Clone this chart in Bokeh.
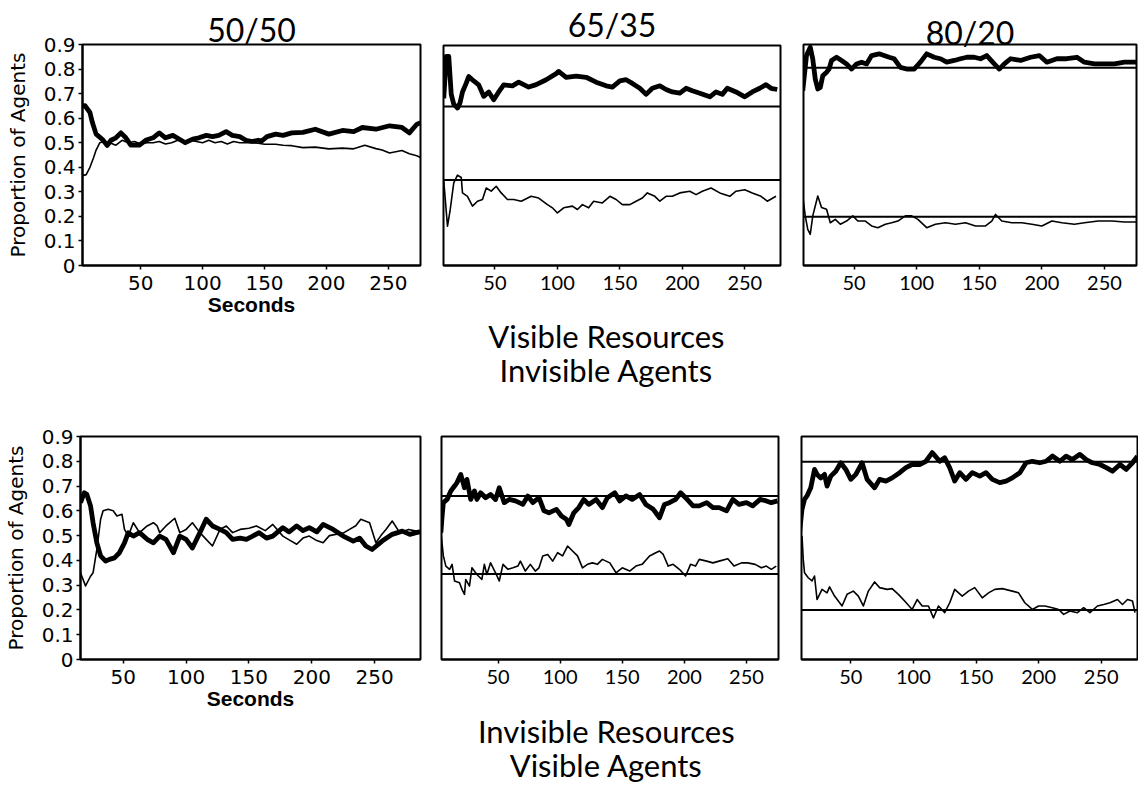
from bokeh.plotting import figure
from bokeh.models import Range1d, FixedTicker, Span, Title, Label
from bokeh.layouts import column, row
from bokeh.embed import file_html
from bokeh.resources import INLINE

# ---------------- data ----------------
titles = ["50/50", "65/35", "80/20"]
row_labels_top = ["Visible Resources", "Invisible Agents"]
row_labels_bottom = ["Invisible Resources", "Visible Agents"]
y_ticks = [0, 0.1, 0.2, 0.3, 0.4, 0.5, 0.6, 0.7, 0.8, 0.9]
y_tick_labels = ["0", "0.1", "0.2", "0.3", "0.4", "0.5", "0.6", "0.7", "0.8", "0.9"]
x_ticks = [50, 100, 150, 200, 250]

# Top row, 50/50
p1_thick_t = [3, 5, 9, 11, 14, 19, 23, 26, 30, 34, 38, 42, 49, 54, 60, 65, 70, 76, 81, 86, 92, 97, 103, 108,
              113, 119, 124, 130, 135, 140, 145, 148, 152, 159, 165, 172, 181, 191, 202, 213, 222, 229, 240,
              251, 261, 267, 273, 276]
p1_thick = [0.65, 0.651, 0.623, 0.582, 0.535, 0.514, 0.489, 0.51, 0.52, 0.54, 0.52, 0.49, 0.49, 0.51, 0.52,
            0.54, 0.52, 0.53, 0.515, 0.50, 0.515, 0.52, 0.53, 0.525, 0.53, 0.545, 0.53, 0.525, 0.51, 0.505,
            0.51, 0.508, 0.525, 0.535, 0.53, 0.54, 0.542, 0.555, 0.535, 0.55, 0.545, 0.562, 0.555, 0.569,
            0.562, 0.54, 0.575, 0.582]
p1_thin_t = [3, 6, 9, 12, 14, 17, 20, 25, 30, 35, 40, 45, 50, 55, 60, 65, 70, 75, 80, 85, 90, 95, 100, 105,
             110, 115, 120, 125, 130, 135, 140, 145, 150, 159, 165, 172, 181, 191, 202, 213, 222, 231, 240,
             245, 251, 261, 267, 273, 276]
p1_thin = [0.366, 0.37, 0.40, 0.44, 0.47, 0.50, 0.505, 0.50, 0.49, 0.51, 0.50, 0.505, 0.495, 0.50, 0.50,
           0.505, 0.495, 0.50, 0.51, 0.505, 0.51, 0.505, 0.50, 0.51, 0.50, 0.505, 0.495, 0.505, 0.50, 0.50,
           0.50, 0.498, 0.494, 0.494, 0.49, 0.488, 0.48, 0.482, 0.475, 0.478, 0.475, 0.49, 0.476, 0.47,
           0.458, 0.468, 0.455, 0.447, 0.44]

# Top row, 65/35
p2_thick_t = [9, 11, 13, 15, 17, 20, 22, 24, 27, 29, 33, 37, 41, 45, 49, 53, 57, 64, 69, 77, 83, 91, 99, 101,
              107, 115, 123, 131, 139, 144, 150, 155, 160, 166, 171, 176, 182, 187, 192, 198, 203, 208, 214,
              222, 227, 232, 236, 243, 250, 256, 262, 267, 271, 276]
p2_thick = [0.684, 0.855, 0.855, 0.70, 0.66, 0.644, 0.665, 0.71, 0.746, 0.773, 0.755, 0.739, 0.692, 0.71,
            0.678, 0.71, 0.739, 0.735, 0.75, 0.73, 0.74, 0.76, 0.785, 0.794, 0.77, 0.775, 0.77, 0.75, 0.735,
            0.73, 0.755, 0.76, 0.745, 0.725, 0.70, 0.725, 0.735, 0.72, 0.71, 0.705, 0.725, 0.715, 0.705,
            0.69, 0.71, 0.70, 0.725, 0.71, 0.69, 0.71, 0.725, 0.74, 0.725, 0.72]
p2_thin_t = [9, 12, 14, 17, 20, 23, 24, 28, 32, 36, 40, 43, 47, 51, 55, 60, 65, 71, 79, 85, 92, 96, 100, 105,
             112, 116, 120, 125, 129, 136, 142, 147, 152, 158, 163, 168, 172, 178, 182, 187, 192, 198, 206,
             211, 216, 223, 230, 238, 243, 250, 256, 263, 268, 275]
p2_thin = [0.345, 0.161, 0.222, 0.338, 0.37, 0.36, 0.297, 0.283, 0.243, 0.263, 0.27, 0.317, 0.304, 0.324,
           0.297, 0.27, 0.27, 0.263, 0.283, 0.276, 0.249, 0.236, 0.215, 0.236, 0.243, 0.229, 0.249, 0.236,
           0.263, 0.256, 0.283, 0.27, 0.249, 0.249, 0.263, 0.276, 0.297, 0.283, 0.263, 0.283, 0.283, 0.297,
           0.304, 0.29, 0.304, 0.317, 0.297, 0.283, 0.304, 0.31, 0.297, 0.283, 0.263, 0.283]
p2_refs = [0.65, 0.35]

# Top row, 80/20
p3_thick_t = [9, 12, 15, 17, 19, 21, 23, 25, 28, 30, 32, 36, 40, 44, 48, 52, 56, 60, 64, 70, 74, 78, 82, 87,
              92, 98, 103, 108, 114, 119, 124, 130, 135, 140, 146, 151, 156, 162, 166, 170, 175, 183, 191,
              198, 204, 212, 220, 228, 234, 242, 250, 258, 266, 276]
p3_thick = [0.712, 0.855, 0.889, 0.841, 0.759, 0.719, 0.725, 0.773, 0.787, 0.80, 0.835, 0.848, 0.835, 0.821,
            0.80, 0.821, 0.828, 0.821, 0.855, 0.862, 0.855, 0.848, 0.842, 0.807, 0.80, 0.80, 0.828, 0.862,
            0.848, 0.842, 0.828, 0.835, 0.842, 0.848, 0.848, 0.842, 0.855, 0.821, 0.80, 0.821, 0.842, 0.835,
            0.848, 0.855, 0.828, 0.842, 0.842, 0.848, 0.828, 0.821, 0.821, 0.821, 0.828, 0.828]
p3_thin_t = [9, 11, 13, 15, 17, 21, 24, 28, 31, 35, 39, 44, 49, 53, 59, 64, 69, 75, 80, 85, 91, 96, 101, 108,
             115, 123, 131, 139, 147, 155, 160, 163, 168, 176, 184, 192, 200, 208, 216, 226, 234, 245, 256,
             266, 276]
p3_thin = [0.283, 0.202, 0.147, 0.127, 0.202, 0.283, 0.236, 0.229, 0.174, 0.188, 0.168, 0.181, 0.202, 0.181,
           0.181, 0.161, 0.154, 0.168, 0.174, 0.181, 0.202, 0.202, 0.188, 0.154, 0.168, 0.174, 0.168, 0.174,
           0.161, 0.161, 0.181, 0.208, 0.181, 0.174, 0.174, 0.168, 0.161, 0.181, 0.174, 0.168, 0.174, 0.181,
           0.181, 0.177, 0.177]
p3_refs = [0.805, 0.199]

# Bottom row, 50/50
p4_thick_t = [16, 19, 21, 24, 26, 29, 32, 36, 39, 43, 47, 51, 54, 58, 63, 69, 74, 79, 84, 90, 95, 100, 105,
              111, 116, 121, 127, 132, 137, 143, 148, 153, 158, 164, 169, 177, 182, 188, 193, 198, 204, 209,
              217, 225, 233, 238, 243, 248, 256, 264, 272, 278, 283, 286]
p4_thick = [0.633, 0.673, 0.667, 0.62, 0.552, 0.471, 0.418, 0.397, 0.404, 0.41, 0.431, 0.471, 0.512, 0.498,
            0.512, 0.485, 0.471, 0.498, 0.485, 0.431, 0.498, 0.485, 0.45, 0.512, 0.566, 0.539, 0.525, 0.512,
            0.485, 0.49, 0.485, 0.498, 0.512, 0.49, 0.498, 0.532, 0.515, 0.539, 0.52, 0.532, 0.515, 0.545,
            0.525, 0.498, 0.478, 0.49, 0.458, 0.444, 0.478, 0.505, 0.518, 0.505, 0.512, 0.515]
p4_thin_t = [16, 20, 24, 26, 29, 32, 34, 38, 42, 45, 49, 51, 54, 58, 63, 69, 74, 77, 79, 84, 91, 95, 100, 105,
             111, 116, 121, 127, 132, 137, 143, 150, 156, 163, 169, 177, 183, 188, 193, 198, 204, 209, 214,
             219, 225, 230, 235, 239, 246, 251, 255, 259, 264, 270, 277, 283, 286]
p4_thin = [0.35, 0.297, 0.336, 0.35, 0.444, 0.566, 0.60, 0.606, 0.60, 0.579, 0.586, 0.525, 0.498, 0.552,
           0.512, 0.539, 0.552, 0.539, 0.512, 0.539, 0.57, 0.512, 0.525, 0.552, 0.512, 0.485, 0.458, 0.525,
           0.539, 0.512, 0.525, 0.53, 0.539, 0.52, 0.545, 0.498, 0.48, 0.465, 0.49, 0.498, 0.48, 0.471, 0.5,
           0.505, 0.51, 0.525, 0.54, 0.566, 0.552, 0.471, 0.50, 0.525, 0.559, 0.512, 0.525, 0.518, 0.52]

# Bottom row, 65/35
p5_thick_t = [4, 5, 6, 9, 12, 15, 17, 20, 23, 25, 28, 31, 33, 36, 40, 44, 48, 51, 55, 59, 64, 70, 74, 78, 83,
              87, 91, 97, 101, 105, 107, 111, 115, 119, 123, 129, 134, 138, 144, 148, 153, 158, 164, 169, 175,
              180, 184, 188, 193, 197, 201, 207, 212, 218, 223, 228, 234, 239, 244, 250, 255, 261, 266, 270,
              275]
p5_thick = [0.512, 0.579, 0.633, 0.646, 0.68, 0.70, 0.714, 0.747, 0.693, 0.727, 0.646, 0.68, 0.646, 0.673,
            0.653, 0.666, 0.646, 0.693, 0.633, 0.646, 0.64, 0.626, 0.66, 0.633, 0.653, 0.60, 0.592, 0.606,
            0.579, 0.566, 0.545, 0.592, 0.613, 0.646, 0.626, 0.646, 0.613, 0.653, 0.673, 0.64, 0.66, 0.646,
            0.666, 0.626, 0.606, 0.572, 0.626, 0.633, 0.646, 0.673, 0.653, 0.62, 0.62, 0.633, 0.613, 0.613,
            0.60, 0.646, 0.626, 0.633, 0.62, 0.646, 0.64, 0.633, 0.64]
p5_thin_t = [4, 6, 8, 11, 13, 15, 19, 21, 23, 24, 27, 29, 33, 37, 39, 41, 44, 48, 51, 54, 58, 62, 66, 68, 72,
             76, 80, 83, 86, 90, 94, 98, 102, 106, 110, 114, 118, 122, 126, 130, 134, 140, 145, 150, 156, 161,
             166, 172, 177, 180, 183, 187, 191, 196, 201, 205, 209, 212, 218, 223, 228, 235, 240, 246, 251,
             257, 262, 266, 270, 274]
p5_thin = [0.512, 0.418, 0.377, 0.364, 0.384, 0.317, 0.31, 0.283, 0.263, 0.323, 0.296, 0.37, 0.343, 0.323,
           0.384, 0.343, 0.39, 0.35, 0.317, 0.384, 0.364, 0.37, 0.377, 0.397, 0.357, 0.384, 0.357, 0.37,
           0.418, 0.424, 0.397, 0.431, 0.418, 0.458, 0.438, 0.418, 0.37, 0.384, 0.39, 0.384, 0.404, 0.39,
           0.35, 0.37, 0.357, 0.377, 0.384, 0.418, 0.431, 0.438, 0.424, 0.377, 0.384, 0.364, 0.337, 0.384,
           0.377, 0.404, 0.397, 0.39, 0.397, 0.407, 0.377, 0.39, 0.39, 0.384, 0.37, 0.377, 0.364, 0.377]
p5_refs = [0.66, 0.345]

# Bottom row, 80/20
p6_thick_t = [9, 11, 13, 15, 18, 21, 23, 26, 29, 31, 34, 38, 42, 46, 50, 54, 59, 63, 69, 73, 78, 83, 89, 94,
              99, 105, 110, 115, 121, 125, 129, 133, 137, 142, 147, 153, 158, 163, 169, 174, 179, 185, 190,
              195, 201, 206, 211, 217, 222, 227, 233, 238, 243, 249, 254, 259, 265, 270, 275, 279]
p6_thick = [0.512, 0.606, 0.646, 0.66, 0.693, 0.767, 0.747, 0.733, 0.747, 0.70, 0.74, 0.76, 0.794, 0.767,
            0.727, 0.747, 0.794, 0.727, 0.693, 0.727, 0.72, 0.733, 0.754, 0.774, 0.787, 0.787, 0.80, 0.835,
            0.80, 0.814, 0.774, 0.72, 0.754, 0.727, 0.754, 0.74, 0.754, 0.727, 0.714, 0.72, 0.733, 0.754,
            0.794, 0.80, 0.794, 0.80, 0.821, 0.80, 0.821, 0.807, 0.828, 0.807, 0.794, 0.787, 0.774, 0.76,
            0.787, 0.767, 0.794, 0.821]
p6_thin_t = [11, 12, 13, 16, 19, 21, 23, 27, 31, 33, 37, 43, 47, 52, 56, 60, 64, 69, 73, 79, 83, 88, 93, 99,
             103, 107, 112, 116, 120, 125, 129, 133, 139, 144, 149, 155, 160, 165, 171, 179, 184, 189, 195,
             200, 205, 211, 216, 220, 225, 231, 236, 241, 247, 252, 257, 263, 267, 271, 275, 277]
p6_thin = [0.498, 0.404, 0.35, 0.33, 0.317, 0.337, 0.242, 0.283, 0.269, 0.293, 0.256, 0.216, 0.263, 0.276,
           0.256, 0.216, 0.276, 0.313, 0.29, 0.283, 0.286, 0.263, 0.236, 0.202, 0.242, 0.216, 0.216, 0.168,
           0.216, 0.189, 0.229, 0.283, 0.256, 0.276, 0.29, 0.249, 0.269, 0.283, 0.286, 0.276, 0.269, 0.229,
           0.202, 0.216, 0.216, 0.209, 0.202, 0.182, 0.196, 0.189, 0.209, 0.189, 0.216, 0.222, 0.229, 0.242,
           0.222, 0.242, 0.236, 0.189]
p6_refs = [0.798, 0.2]

# x extents of each panel (seconds)
x_extents = [(3, 276), (8.8, 278.6), (9.6, 275.6), (16, 286.5), (4.5, 275.8), (10.6, 279)]

TICK_FONT_A = "DejaVu Sans"
TICK_FONT_B = "Lato"
BIG_FONT = "Lato"


def panel(width, height, left, right, top, bottom, xr, show_y, tick_font):
    p = figure(width=width, height=height, output_backend="svg", toolbar_location=None,
               x_range=Range1d(*xr), y_range=Range1d(0, 0.9),
               y_axis_location="left" if show_y else None,
               min_border_left=left, min_border_right=right,
               min_border_top=top, min_border_bottom=bottom)
    p.background_fill_color = "white"
    p.border_fill_color = "white"
    p.outline_line_color = "black"
    p.outline_line_width = 2
    p.outline_line_alpha = 1
    p.xgrid.visible = False
    p.ygrid.visible = False
    p.xaxis.ticker = FixedTicker(ticks=x_ticks)
    p.xaxis.minor_tick_line_color = None
    p.xaxis.major_tick_out = 4
    p.xaxis.major_tick_in = 0
    p.xaxis.axis_line_width = 2
    p.xaxis.major_tick_line_width = 1.5
    p.xaxis.major_label_standoff = 6
    p.xaxis.major_label_text_font = tick_font
    p.xaxis.major_label_text_font_size = "20px"
    p.xaxis.major_label_text_color = "black"
    if show_y:
        p.yaxis.ticker = FixedTicker(ticks=y_ticks)
        p.yaxis.major_label_overrides = {t: l for t, l in zip(y_ticks, y_tick_labels)}
        p.yaxis.minor_tick_line_color = None
        p.yaxis.major_tick_out = 4
        p.yaxis.major_tick_in = 0
        p.yaxis.axis_line_width = 2
        p.yaxis.major_tick_line_width = 1.5
        p.yaxis.major_label_standoff = 3
        p.yaxis.major_label_text_font = tick_font
        p.yaxis.major_label_text_font_size = "20px"
        p.yaxis.major_label_text_color = "black"
        p.yaxis.axis_label = "Proportion of Agents"
        p.yaxis.axis_label_text_font = "DejaVu Sans"
        p.yaxis.axis_label_text_font_style = "normal"
        p.yaxis.axis_label_text_font_size = "20px"
        p.yaxis.axis_label_standoff = 11
        p.yaxis.axis_label_text_color = "black"
        p.xaxis.axis_label = "Seconds"
        p.xaxis.axis_label_text_font = "Liberation Sans"
        p.xaxis.axis_label_text_font_style = "bold"
        p.xaxis.axis_label_text_font_size = "21px"
        p.xaxis.axis_label_standoff = 0
        p.xaxis.axis_label_text_color = "black"
    return p


def add_series(p, tt, thick, tn, thin, refs):
    for r in refs:
        p.add_layout(Span(location=r, dimension="width", line_color="black", line_width=2))
    p.line(tn, thin, line_color="black", line_width=1.6, line_join="round")
    p.line(tt, thick, line_color="black", line_width=4.8, line_join="round")


def big_title(p, text, standoff, offset=0, size="32px"):
    t = Title(text=text, align="center", text_font=BIG_FONT, text_font_size=size,
              text_font_style="normal", text_color="black", standoff=standoff, offset=offset)
    p.add_layout(t, "above")


def text_strip(width, height, items, size="31px"):
    # a plain strip whose frame is the whole canvas; coordinates are pixels from top-left
    f = figure(width=width, height=height, output_backend="svg", toolbar_location=None,
               x_range=Range1d(0, width), y_range=Range1d(height, 0),
               x_axis_location=None, y_axis_location=None, min_border=0)
    f.outline_line_color = None
    f.background_fill_color = "white"
    f.border_fill_color = "white"
    f.grid.visible = False
    for (x, y, text) in items:
        f.add_layout(Label(x=x, y=y, text=text, text_align="center", text_baseline="middle",
                           text_font=BIG_FONT, text_font_size=size, text_color="black"))
    return f


# ---------------- top row ----------------
p1 = panel(432, 400, 82, 12, 44, 135, x_extents[0], True, TICK_FONT_A)
add_series(p1, p1_thick_t, p1_thick, p1_thin_t, p1_thin, [])
p2 = panel(360, 305, 11, 12, 44, 40, x_extents[1], False, TICK_FONT_B)
add_series(p2, p2_thick_t, p2_thick, p2_thin_t, p2_thin, p2_refs)
p3 = panel(346, 400, 11, 2, 44, 135, x_extents[2], False, TICK_FONT_B)
add_series(p3, p3_thick_t, p3_thick, p3_thin_t, p3_thin, p3_refs)

big_title(p1, titles[0], -8, 0)
big_title(p2, titles[1], 4, -8)
big_title(p3, titles[2], -14, -6)

mid1 = text_strip(360, 95, [(174, 30, row_labels_top[0]), (174, 64, row_labels_top[1])])

# ---------------- bottom row ----------------
p4 = panel(430, 384, 79, 10, 36, 125, x_extents[3], True, TICK_FONT_A)
add_series(p4, p4_thick_t, p4_thick, p4_thin_t, p4_thin, [])
p5 = panel(360, 299, 11, 12, 36, 40, x_extents[4], False, TICK_FONT_B)
add_series(p5, p5_thick_t, p5_thick, p5_thin_t, p5_thin, p5_refs)
p6 = panel(348, 384, 11, 1, 36, 125, x_extents[5], False, TICK_FONT_B)
add_series(p6, p6_thick_t, p6_thick, p6_thin_t, p6_thin, p6_refs)

mid2 = text_strip(360, 85, [(176, 31, row_labels_bottom[0]), (176, 65, row_labels_bottom[1])])

layout = column(row(p1, column(p2, mid1), p3), row(p4, column(p5, mid2), p6))
open("out.html", "w").write(file_html(layout, INLINE))
